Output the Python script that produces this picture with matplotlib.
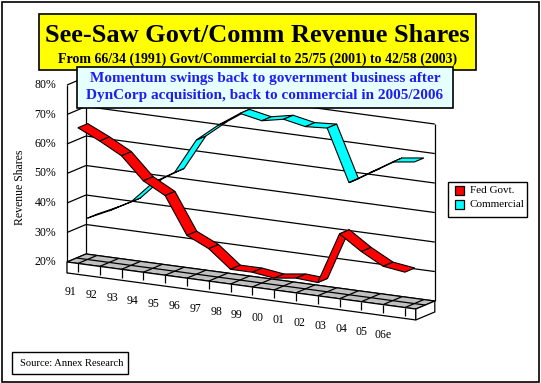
import matplotlib
matplotlib.use('Agg')
import matplotlib.pyplot as plt
from matplotlib.patches import Polygon, Rectangle
import numpy as np

# ---------------- data ----------------
years = ['91', '92', '93', '94', '95', '96', '97', '98', '99', '00',
         '01', '02', '03', '04', '05', '06e']
fed_govt = [66, 62.5, 58.5, 51, 47, 34.5, 31, 25, 25, 24, 25, 24.5, 42, 37, 33, 32]
commercial = [34, 37.5, 41.5, 49, 53.5, 65.5, 71.5, 76.5, 75, 76.5, 75, 75.5, 58, 62.5, 67, 68]
y_ticks = [20, 30, 40, 50, 60, 70, 80]
y_tick_labels = ['20%', '30%', '40%', '50%', '60%', '70%', '80%']
series_names = ['Fed Govt.', 'Commercial']
series_colors = ['#FF0000', '#00FFFF']

title = 'See-Saw Govt/Comm Revenue Shares'
subtitle = 'From 66/34 (1991) Govt/Commercial to 25/75 (2001) to 42/58 (2003)'
note_lines = ['Momentum swings back to government business after',
              'DynCorp acquisition, back to commercial in 2005/2006']
y_label = 'Revenue Shares'
source = 'Source: Annex Research'

# ---------------- canvas ----------------
W, H = 541, 383
fig = plt.figure(figsize=(W / 100, H / 100), dpi=100)
ax = fig.add_axes([0, 0, 1, 1])
ax.set_xlim(0, W)
ax.set_ylim(H, 0)
ax.axis('off')
SERIF = 'Liberation Serif'

# oblique 3-D projection: category position u, value v (%), depth w (0 front, 1 back)
X0, Y0 = 67.0, 262.0
DU_X, DU_Y = 21.8, 2.94
DV = 2.95
DW_X, DW_Y = 19.0, -8.0
VMIN, VMAX = y_ticks[0], y_ticks[-1]
N = len(years)
SLAB = 3.7  # floor thickness in value units


def proj(u, v, w):
    x = X0 + DU_X * u + DW_X * w
    y = Y0 + DU_Y * u - DV * (v - VMIN) + DW_Y * w
    return (x, y)


def line(p, q, **kw):
    ax.plot([p[0], q[0]], [p[1], q[1]], color='black', lw=0.9,
            solid_capstyle='butt', **kw)


# outer frame
ax.add_patch(Rectangle((2, 2), W - 4.5, H - 3.5, fc='white', ec='black', lw=1.2, zorder=0))

# back wall + left wall gridlines
for v in y_ticks:
    line(proj(0, v, 1), proj(N, v, 1), zorder=1)
    line(proj(0, v, 0), proj(0, v, 1), zorder=1)
# wall edges
line(proj(0, VMAX, 1), proj(0, VMIN, 1), zorder=1)
line(proj(N, VMAX, 1), proj(N, VMIN, 1), zorder=1)
line(proj(0, VMAX, 0), proj(0, VMIN - SLAB, 0), zorder=1)

# floor slab
top = [proj(0, VMIN, 0), proj(N, VMIN, 0), proj(N, VMIN, 1), proj(0, VMIN, 1)]
ax.add_patch(Polygon(top, closed=True, fc='#C0C0C0', ec='black', lw=0.9, zorder=2))
front = [proj(0, VMIN, 0), proj(N, VMIN, 0), proj(N, VMIN - SLAB, 0), proj(0, VMIN - SLAB, 0)]
ax.add_patch(Polygon(front, closed=True, fc='white', ec='black', lw=0.9, zorder=2))
side = [proj(N, VMIN, 0), proj(N, VMIN, 1), proj(N, VMIN - SLAB, 1), proj(N, VMIN - SLAB, 0)]
ax.add_patch(Polygon(side, closed=True, fc='white', ec='black', lw=0.9, zorder=2))
for i in range(N):
    line(proj(i + 0.5, VMIN, 0), proj(i + 0.5, VMIN, 1), zorder=3)
    line(proj(i + 0.5, VMIN, 0), proj(i + 0.5, VMIN - SLAB * 0.75, 0), zorder=3)
line(proj(0, VMIN, 0.5), proj(N, VMIN, 0.5), zorder=3)

# ribbons (back series first)
depths = [(0.0, 0.52), (0.5, 1.0)]
for vals, color, (w0, w1), z in [(commercial, series_colors[1], depths[1], 4),
                                 (fed_govt, series_colors[0], depths[0], 5)]:
    for i in range(N - 1):
        pts = [proj(i + 0.5, vals[i], w0), proj(i + 1.5, vals[i + 1], w0),
               proj(i + 1.5, vals[i + 1], w1), proj(i + 0.5, vals[i], w1)]
        ax.add_patch(Polygon(pts, closed=True, fc=color, ec='black', lw=0.8,
                             joinstyle='miter', zorder=z))

# value axis labels
for v, lab in zip(y_ticks, y_tick_labels):
    x, y = proj(0, v, 0)
    ax.text(x - 11, y, lab, ha='right', va='center', fontsize=8.5, family=SERIF, zorder=6)
ax.text(20, 187, y_label, rotation=90, ha='center', va='center', fontsize=8.5,
        family=SERIF, zorder=6)

# category labels (along the front of the slab)
for i, lab in enumerate(years):
    x, y = proj((i + 0.5) * 0.955, VMIN, 0)
    ax.text(x - 7, y + 29, lab, ha='center', va='center', fontsize=8.5,
            family=SERIF, zorder=6)

# title box
ax.add_patch(Rectangle((39, 14), 437, 56, fc='#FFFF00', ec='black', lw=1.2, zorder=7))
ax.text(257.5, 35, title, ha='center', va='center', fontsize=19, fontweight='bold',
        family=SERIF, zorder=8)
ax.text(257.5, 59, subtitle, ha='center', va='center', fontsize=10, fontweight='bold',
        family=SERIF, zorder=8)

# annotation box
ax.add_patch(Rectangle((77, 67), 376, 41, fc='#E6FFFF', ec='black', lw=1.2, zorder=9))
ax.text(265, 78.5, note_lines[0], ha='center', va='center', fontsize=11,
        fontweight='bold', color='#1E1EF0', family=SERIF, zorder=10)
ax.text(265, 95.5, note_lines[1], ha='center', va='center', fontsize=11,
        fontweight='bold', color='#1E1EF0', family=SERIF, zorder=10)

# legend
ax.add_patch(Rectangle((448, 182), 79, 35, fc='white', ec='black', lw=1, zorder=7))
for k, (name, color) in enumerate(zip(series_names, series_colors)):
    yc = 190.5 + 14 * k
    ax.add_patch(Rectangle((454.5, yc - 4.5), 9, 9, fc=color, ec='black', lw=0.9, zorder=8))
    ax.text(470, yc, name, ha='left', va='center', fontsize=8, family=SERIF, zorder=8)

# source box
ax.add_patch(Rectangle((11.5, 352), 116.5, 22, fc='white', ec='black', lw=1, zorder=7))
ax.text(20.5, 363, source, ha='left', va='center', fontsize=7.6, family=SERIF, zorder=8)

fig.savefig('out.png', dpi=100)
